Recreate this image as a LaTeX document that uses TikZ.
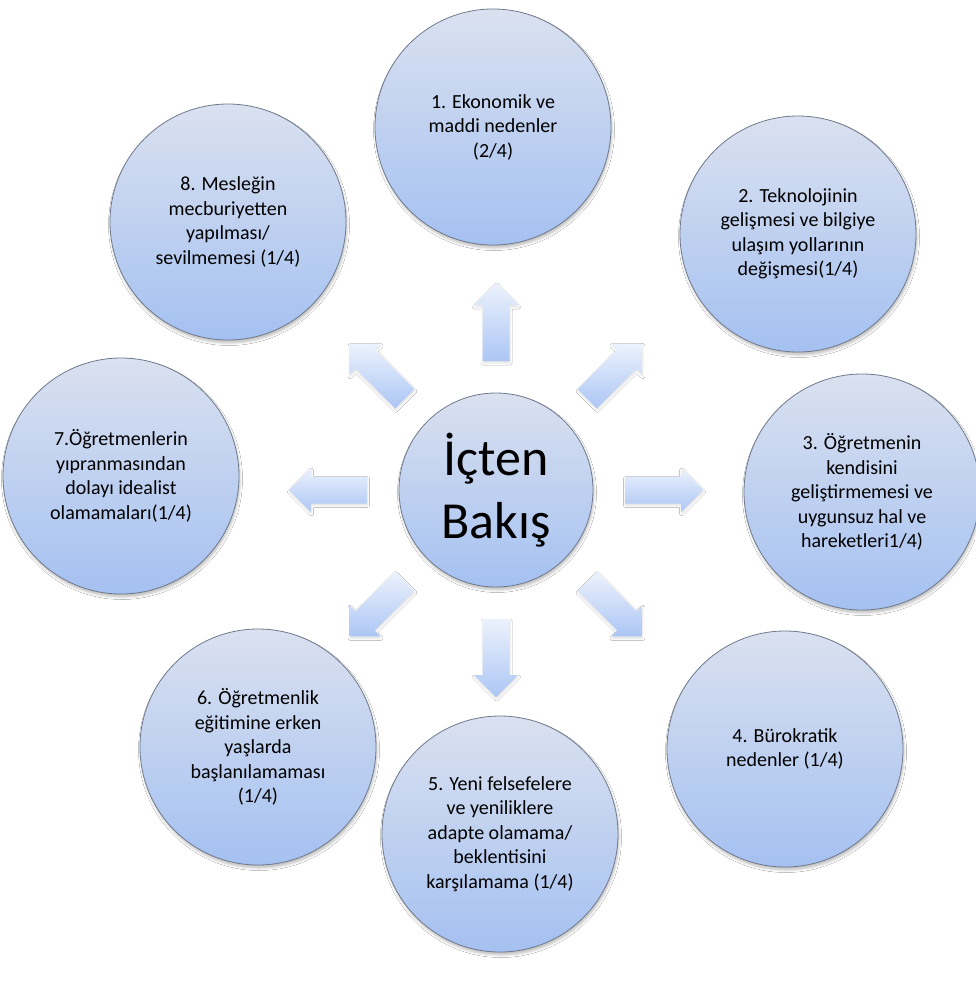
\documentclass[tikz,border=0pt]{standalone}
\usepackage{fontspec}
\setmainfont{Carlito}
\usetikzlibrary{shadows.blur}
\definecolor{ctop}{RGB}{218,225,240}
\definecolor{cbot}{RGB}{165,193,241}
\definecolor{cedge}{RGB}{112,122,140}
\definecolor{atop}{RGB}{236,242,253}
\definecolor{abot}{RGB}{172,198,244}
\tikzset{
  bubble/.style={circle, draw=cedge, line width=0.8pt, top color=ctop, bottom color=cbot,
    minimum size=236pt, inner sep=0pt, align=center, text=black,
    font=\fontsize{20}{24.5}\selectfont,
    blur shadow={shadow xshift=1pt, shadow yshift=-3pt, shadow blur radius=2.5pt, shadow opacity=25}},
  hub/.style={bubble, minimum size=194pt, font=\fontsize{52}{63}\selectfont},
  blockarrow/.style={top color=atop, bottom color=abot, draw=none,
    blur shadow={shadow xshift=0.5pt, shadow yshift=-2pt, shadow blur radius=2pt, shadow opacity=12}}
}
\begin{document}
\begin{tikzpicture}[x=1pt, y=-1pt]
\useasboundingbox (0,0) rectangle (975,983);
\fill[white] (0,0) rectangle (975,983);

\node[hub] (c0) at (496,490) {İçten\\Bakış};

\node[bubble] (c1) at (493,127) {1. Ekonomik ve\\maddi nedenler\\(2/4)};
\node[bubble] (c2) at (798,234) {2. Teknolojinin\\gelişmesi ve bilgiye\\ulaşım yollarının\\değişmesi(1/4)};
\node[bubble] (c3) at (862,492) {3. Öğretmenin\\kendisini\\geliştirmemesi ve\\uygunsuz hal ve\\hareketleri1/4)};
\node[bubble] (c4) at (785,749) {4. Bürokratik\\nedenler (1/4)};
\node[bubble] (c5) at (500,834) {5. Yeni felsefelere\\ve yeniliklere\\adapte olamama/\\beklentisini\\karşılamama (1/4)};
\node[bubble] (c6) at (258,747) {6. Öğretmenlik\\eğitimine erken\\yaşlarda\\başlanılamaması\\(1/4)};
\node[bubble] (c7) at (121,476) {7.Öğretmenlerin\\yıpranmasından\\dolayı idealist\\olamamaları(1/4)};
\node[bubble] (c8) at (228,222) {8. Mesleğin\\mecburiyetten\\yapılması/\\sevilmemesi (1/4)};

\foreach \a in {0,45,...,315}{
  \begin{scope}[shift={(c0.center)}, rotate=\a]
    \path[blockarrow] (129,-13.5) -- (185,-13.5) -- (185,-22) -- (207,0)
      -- (185,22) -- (185,13.5) -- (129,13.5) -- cycle;
  \end{scope}
}
\end{tikzpicture}
\end{document}
